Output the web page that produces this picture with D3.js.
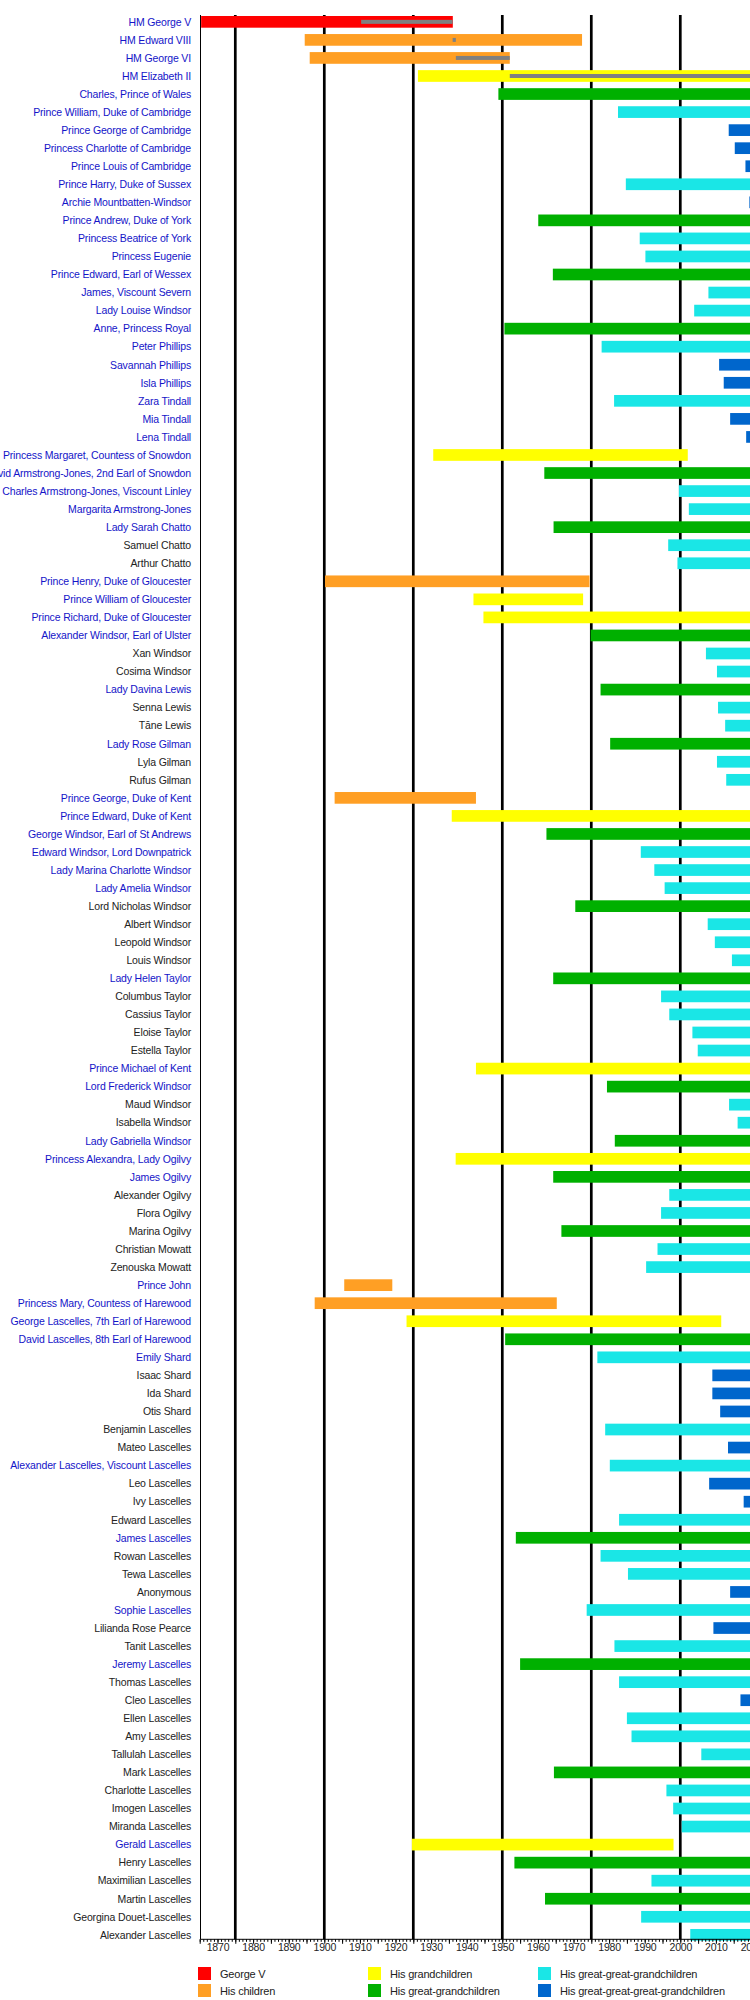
<!DOCTYPE html>
<html>
<head>
<meta charset="utf-8">
<script src="https://cdn.jsdelivr.net/npm/d3@7"></script>
<style>
  html, body { margin: 0; padding: 0; background: #fff; }
  svg { display: block; font-family: "Liberation Sans", Arial, sans-serif; }
</style>
</head>
<body>
<svg id="chart" width="750" height="2000"></svg>
<script>
// ---- data ----
const names = [
  "HM George V","HM Edward VIII","HM George VI","HM Elizabeth II","Charles, Prince of Wales",
  "Prince William, Duke of Cambridge","Prince George of Cambridge","Princess Charlotte of Cambridge","Prince Louis of Cambridge","Prince Harry, Duke of Sussex",
  "Archie Mountbatten-Windsor","Prince Andrew, Duke of York","Princess Beatrice of York","Princess Eugenie","Prince Edward, Earl of Wessex",
  "James, Viscount Severn","Lady Louise Windsor","Anne, Princess Royal","Peter Phillips","Savannah Phillips",
  "Isla Phillips","Zara Tindall","Mia Tindall","Lena Tindall","Princess Margaret, Countess of Snowdon",
  "David Armstrong-Jones, 2nd Earl of Snowdon","Charles Armstrong-Jones, Viscount Linley","Margarita Armstrong-Jones","Lady Sarah Chatto","Samuel Chatto",
  "Arthur Chatto","Prince Henry, Duke of Gloucester","Prince William of Gloucester","Prince Richard, Duke of Gloucester","Alexander Windsor, Earl of Ulster",
  "Xan Windsor","Cosima Windsor","Lady Davina Lewis","Senna Lewis","Tāne Lewis",
  "Lady Rose Gilman","Lyla Gilman","Rufus Gilman","Prince George, Duke of Kent","Prince Edward, Duke of Kent",
  "George Windsor, Earl of St Andrews","Edward Windsor, Lord Downpatrick","Lady Marina Charlotte Windsor","Lady Amelia Windsor","Lord Nicholas Windsor",
  "Albert Windsor","Leopold Windsor","Louis Windsor","Lady Helen Taylor","Columbus Taylor",
  "Cassius Taylor","Eloise Taylor","Estella Taylor","Prince Michael of Kent","Lord Frederick Windsor",
  "Maud Windsor","Isabella Windsor","Lady Gabriella Windsor","Princess Alexandra, Lady Ogilvy","James Ogilvy",
  "Alexander Ogilvy","Flora Ogilvy","Marina Ogilvy","Christian Mowatt","Zenouska Mowatt",
  "Prince John","Princess Mary, Countess of Harewood","George Lascelles, 7th Earl of Harewood","David Lascelles, 8th Earl of Harewood","Emily Shard",
  "Isaac Shard","Ida Shard","Otis Shard","Benjamin Lascelles","Mateo Lascelles",
  "Alexander Lascelles, Viscount Lascelles","Leo Lascelles","Ivy Lascelles","Edward Lascelles","James Lascelles",
  "Rowan Lascelles","Tewa Lascelles","Anonymous","Sophie Lascelles","Lilianda Rose Pearce",
  "Tanit Lascelles","Jeremy Lascelles","Thomas Lascelles","Cleo Lascelles","Ellen Lascelles",
  "Amy Lascelles","Tallulah Lascelles","Mark Lascelles","Charlotte Lascelles","Imogen Lascelles",
  "Miranda Lascelles","Gerald Lascelles","Henry Lascelles","Maximilian Lascelles","Martin Lascelles",
  "Georgina Douet-Lascelles","Alexander Lascelles"
];
const births = [
  1865.4,1894.5,1895.9,1926.3,1948.9,
  1982.5,2013.6,2015.3,2018.3,1984.7,
  2019.4,1960.1,1988.6,1990.2,1964.2,
  2007.9,2003.9,1950.6,1977.9,2010.9,
  2012.2,1981.4,2014.0,2018.5,1930.6,
  1961.8,1999.6,2002.4,1964.4,1996.6,
  1999.2,1900.2,1941.9,1944.7,1974.8,
  2007.2,2010.3,1977.6,2010.6,2012.6,
  1980.3,2010.3,2012.9,1902.9,1935.8,
  1962.4,1988.9,1992.7,1995.6,1970.5,
  2007.7,2009.7,2014.5,1964.3,1994.6,
  1996.9,2003.4,2004.9,1942.6,1979.4,
  2013.7,2016.1,1981.6,1936.9,1964.3,
  1996.9,1994.6,1966.6,1993.6,1990.4,
  1905.6,1897.3,1923.1,1950.8,1976.7,
  2009.0,2009.0,2011.2,1978.9,2013.4,
  1980.2,2008.1,2017.8,1982.8,1953.8,
  1977.6,1985.3,2014.0,1973.7,2009.3,
  1981.5,1955.0,1982.8,2016.9,1985.0,
  1986.3,2005.9,1964.5,1996.1,1998.0,
  2000.4,1924.6,1953.4,1991.9,1962.0,
  1989.0,2002.8
];
// death year, or null when still living
const deaths = [
  1936.1,1972.4,1952.1,null,null,
  null,null,null,null,null,
  null,null,null,null,null,
  null,null,null,null,null,
  null,null,null,null,2002.1,
  null,null,null,null,null,
  null,1974.5,1972.7,null,null,
  null,null,null,null,null,
  null,null,null,1942.6,null,
  null,null,null,null,null,
  null,null,null,null,null,
  null,null,null,null,null,
  null,null,null,null,null,
  null,null,null,null,null,
  1919.1,1965.3,2011.5,null,null,
  null,null,null,null,null,
  null,null,null,null,null,
  null,null,null,null,null,
  null,null,null,null,null,
  null,null,null,null,null,
  null,1998.1,null,null,null,
  null,null
];
// 0 George V, 1 children, 2 grandchildren, 3 great-, 4 great-great-, 5 great-great-great-
const generations = [
  0,1,1,2,3,
  4,5,5,5,4,
  5,3,4,4,3,
  4,4,3,4,5,
  5,4,5,5,2,
  3,4,4,3,4,
  4,1,2,2,3,
  4,4,3,4,4,
  3,4,4,1,2,
  3,4,4,4,3,
  4,4,4,3,4,
  4,4,4,2,3,
  4,4,3,2,3,
  4,4,3,4,4,
  1,1,2,3,4,
  5,5,5,4,5,
  4,5,5,4,3,
  4,4,5,4,5,
  4,3,4,5,4,
  4,4,3,4,4,
  4,2,3,4,3,
  4,4
];
// rows whose label is a link (blue)
const linked = [
  1,1,1,1,1, 1,1,1,1,1, 1,1,1,1,1, 1,1,1,1,1, 1,1,1,1,1,
  1,1,1,1,0, 0,1,1,1,1, 0,0,1,0,0, 1,0,0,1,1, 1,1,1,1,0,
  0,0,0,1,0, 0,0,0,1,1, 0,0,1,1,1, 0,0,0,0,0, 1,1,1,1,1,
  0,0,0,0,0, 1,0,0,0,1, 0,0,0,1,0, 0,1,0,0,0, 0,0,0,0,0,
  0,1,0,0,0, 0,0
];
// reigns (grey bars)
const reignNames = ["HM George V","HM Edward VIII","HM George VI","HM Elizabeth II"];
const reignStart = [1910.35, 1936.05, 1936.95, 1952.1];
const reignEnd   = [1936.05, 1936.95, 1952.1, null];

const legendLabels = ["George V","His children","His grandchildren","His great-grandchildren",
  "His great-great-grandchildren","His great-great-great-grandchildren"];
const genColors = ["#ff0000","#ff9f24","#ffff00","#00b000","#1ae6e6","#0066cc"];
const gridYears = [1875,1900,1925,1950,1975,2000,2025];
const tickYears = d3.range(1870, 2030, 10);
const presentYear = 2030;

// ---- layout ----
const svg = d3.select("#chart");
const x = d3.scaleLinear().domain([1875, 2000]).range([235.3, 680.3]);
const plotTop = 15, plotBottom = 1939.3, plotLeft = 200.5;
const step = 18.047;
const y = d3.scaleBand().domain(names)
  .range([16 - 0.176 * step, 16 - 0.176 * step + names.length * step])
  .paddingInner(0.352).paddingOuter(0.176);

const rows = names.map((n, i) => ({name: n, b: births[i], d: deaths[i], g: generations[i], link: linked[i]}));

// grid lines (behind bars)
svg.append("g").selectAll("line").data(gridYears).join("line")
  .attr("x1", d => x(d)).attr("x2", d => x(d))
  .attr("y1", plotTop).attr("y2", plotBottom)
  .attr("stroke", "#000").attr("stroke-width", 2.7);

// bars
svg.append("g").selectAll("rect").data(rows).join("rect")
  .attr("x", d => x(d.b))
  .attr("y", d => y(d.name))
  .attr("width", d => x(d.d == null ? presentYear : d.d) - x(d.b))
  .attr("height", y.bandwidth())
  .attr("fill", d => genColors[d.g]);

// reign bars
const reigns = reignNames.map((n, i) => ({name: n, s: reignStart[i], e: reignEnd[i]}));
svg.append("g").selectAll("rect").data(reigns).join("rect")
  .attr("x", d => x(d.s))
  .attr("y", d => y(d.name) + y.bandwidth() / 2 - 2)
  .attr("width", d => x(d.e == null ? presentYear : d.e) - x(d.s))
  .attr("height", 4)
  .attr("fill", "#808080");

// left axis line
svg.append("line").attr("x1", plotLeft).attr("x2", plotLeft)
  .attr("y1", plotTop).attr("y2", plotBottom)
  .attr("stroke", "#000").attr("stroke-width", 1);

// name labels
svg.append("g").selectAll("text").data(rows).join("text")
  .attr("x", 191)
  .attr("y", d => y(d.name) + y.bandwidth() / 2)
  .attr("dy", "0.36em")
  .attr("text-anchor", "end")
  .attr("font-size", "10.5px")
  .attr("letter-spacing", "-0.15px")
  .attr("fill", d => d.link ? "#1414c8" : "#222")
  .text(d => d.name);

// bottom axis: yearly minor ticks, 5-year ticks, 10-year labels
const minor = d3.axisBottom(x).tickValues(d3.range(1865, 2031, 1)).tickSize(2.5).tickFormat("");
const mid = d3.axisBottom(x).tickValues(d3.range(1865, 2031, 5)).tickSize(4.5).tickFormat("");
const major = d3.axisBottom(x).tickValues(tickYears).tickSize(0).tickPadding(4.5).tickFormat(d3.format("d"));
[minor, mid, major].forEach(ax => {
  const g = svg.append("g").attr("transform", `translate(0,${plotBottom})`).call(ax);
  g.select(".domain").remove();
  g.selectAll(".tick line").attr("stroke", "#000");
  g.selectAll(".tick text").attr("font-size", "10.5px").attr("fill", "#222")
    .attr("font-family", "'Liberation Sans', Arial, sans-serif").attr("letter-spacing", "-0.2px");
});
svg.append("line").attr("x1", plotLeft).attr("x2", 760)
  .attr("y1", plotBottom).attr("y2", plotBottom)
  .attr("stroke", "#000").attr("stroke-width", 1);

// legend
const legendX = [198, 198, 368, 368, 538, 538];
const legendY = [1967, 1984, 1967, 1984, 1967, 1984];
const lg = svg.append("g").selectAll("g").data(legendLabels).join("g")
  .attr("transform", (d, i) => `translate(${legendX[i]},${legendY[i]})`);
lg.append("rect").attr("width", 13).attr("height", 13).attr("fill", (d, i) => genColors[i]);
lg.append("text").attr("x", 22).attr("y", 6.8).attr("dy", "0.35em")
  .attr("font-size", "11px").attr("fill", "#222").attr("letter-spacing", "-0.2px")
  .text(d => d);
</script>
</body>
</html>
